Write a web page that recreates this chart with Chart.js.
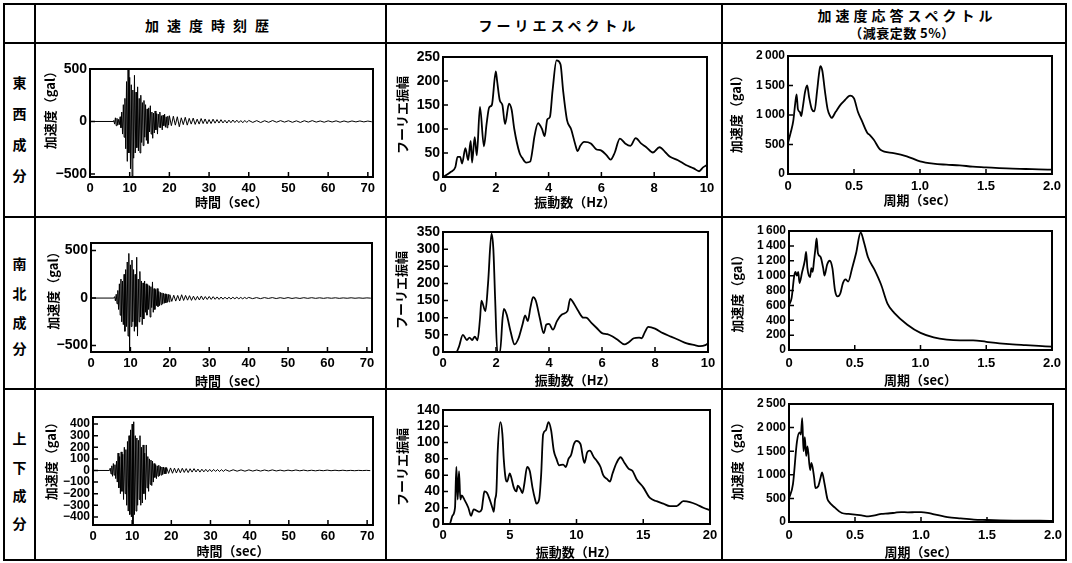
<!DOCTYPE html>
<html><head><meta charset="utf-8">
<script src="https://cdn.jsdelivr.net/npm/chart.js@4.4.0/dist/chart.umd.min.js"></script>
<style>
html,body{margin:0;padding:0;background:#fff;}
#page{position:relative;width:1072px;height:563px;overflow:hidden;background:#fff;font-family:"Liberation Sans","Noto Sans CJK JP",sans-serif;font-weight:bold;color:#000;}
.ln{position:absolute;background:#000;}
.txt{position:absolute;white-space:nowrap;text-align:center;font-family:"Noto Sans CJK JP","Liberation Sans",sans-serif;font-weight:bold;color:#000;}
canvas{position:absolute;}
</style></head>
<body><div id="page">
<div class="ln" style="left:3px;top:3px;width:1064px;height:2px"></div>
<div class="ln" style="left:3px;top:559px;width:1064px;height:2px"></div>
<div class="ln" style="left:3px;top:3px;width:2px;height:558px"></div>
<div class="ln" style="left:1065px;top:3px;width:2px;height:558px"></div>
<div class="ln" style="left:34px;top:3px;width:2px;height:558px"></div>
<div class="ln" style="left:385px;top:3px;width:2px;height:558px"></div>
<div class="ln" style="left:721px;top:3px;width:2px;height:558px"></div>
<div class="ln" style="left:3px;top:42px;width:1064px;height:2px"></div>
<div class="ln" style="left:3px;top:216px;width:1064px;height:2px"></div>
<div class="ln" style="left:3px;top:388px;width:1064px;height:2px"></div>

<div class="txt" style="left:53px;width:300px;top:16px;font-size:14px;line-height:18px;letter-spacing:8px;padding-left:8px;">加速度時刻歴</div>
<div class="txt" style="left:405px;width:300px;top:16px;font-size:14px;line-height:18px;letter-spacing:4px;padding-left:4px;">フーリエスペクトル</div>
<div class="txt" style="left:753px;width:300px;top:6px;font-size:14px;line-height:18px;letter-spacing:4px;padding-left:4px;">加速度応答スペクトル</div>
<div class="txt" style="left:752px;width:300px;top:24px;font-size:13px;line-height:17px;letter-spacing:0.5px;">（減衰定数 5%）</div>
<div id="rowlabels"></div>
</div>
<script>
// ---------- labels ----------
const rowLabels = [["東","西","成","分"],["南","北","成","分"],["上","下","成","分"]];

// ---------- acceleration time histories (gal) ----------
// EW: samples from 6.0 s
const ewStart = 6.0;
const ewAcc02 = [10,-25,35,-40,30,-35,20,-30,45,-60,
 90,-120,160,-150,220,-260,380,-380,500,-300,
 420,-450,350,-520,300,-350,440,-300,280,-250,
 330,-280,220,-300,250,-200,180,-230,200,-150,
 160,-180,120,-210,130,-100,150,-120,90,-160,
 80,-110,100,-80,75,-120,70,-55,90,-60,
 55,-80,60,-40,70,-55,45,-60,50,-35,55];
const ewAcc05 = [-40,50,-35,45,-50,35,-30,40,-35,30,
 -25,32,-28,22,-25,28,-20,24,-22,18,
 -20,22,-16,18,-15,17,-14,12,-15,13,
 -12,14,-10,12,-11,9,-12,10,-9,10];
const ewAcc10 = [-9,8,-10,7,-8,9,-7,8,-6,7,-8,6,-9,7,-6,8,-6,5,-7,6,-5,6,-7,5,-6,5,-4,5,-4,4,-3];

// NS
const nsStart = 6.0;
const nsAcc02 = [15,-30,40,-60,80,-120,150,-180,200,-250,
 180,-280,250,-350,300,-300,380,-400,470,-560,
 350,-300,400,-250,300,-350,250,-300,430,-400,
 200,-250,280,-200,180,-280,160,-220,180,-150,
 150,-180,140,-120,130,-200,120,-100,170,-150,
 100,-120,90,-80,100,-90,70,-80,60,-70,
 55,-60,50,-55,45,-50,40,-45,40,-40,35];
const nsAcc05 = [-35,30,-32,28,-30,35,-25,28,-22,25,
 -24,20,-22,18,-20,22,-18,16,-15,17,
 -14,15,-13,12,-14,11,-12,10,-11,9,
 -10,9,-8,9,-8,7,-8,7,-6,7];
const nsAcc10 = [-6,5,-6,5,-4,5,-5,4,-4,5,-4,3,-4,4,-3,4,-3,3,-3,3,-2,3,-3,2,-2,3,-2,2,-2,2,-1];

// UD
const udStart = 4.4;
const udAcc02 = [20,-30,40,-50,60,-40,50,-70,80,-100,
 150,-150,120,-200,160,-180,140,-250,200,-200,
 180,-300,250,-350,300,-380,350,-400,400,-470,
 420,-380,300,-350,280,-300,260,-250,300,-300,
 200,-280,220,-200,150,-250,220,-150,120,-180,
 100,-120,90,-130,80,-100,60,-60,50,-70,
 40,-50,45,-45,35,-40,30,-35,30,-30,25,-28,25];
const udAcc05 = [-25,22,-24,20,-22,18,-20,19,-17,16,
 -18,15,-14,16,-13,12,-14,11,-12,10,
 -11,9,-10,9,-8,8,-9,7,-8,7];
const udAcc10 = [-7,6,-6,5,-6,5,-5,4,-5,4,-4,5,-4,3,-4,3,-3,4,-3,3,-3,2,-3,2,-2,3,-2,2,-2,2,-2,1,-2,1,-1,1,-1];

// ---------- Fourier spectra ----------
const ewFreq = [0,0.28,0.47,0.55,0.65,0.72,0.85,0.95,1.05,1.1,1.2,1.28,1.4,1.55,1.65,1.75,1.85,2.0,2.05,2.15,2.25,2.35,2.5,2.6,2.7,2.9,3.0,3.15,3.3,3.4,3.45,3.6,3.75,3.85,3.95,4.05,4.15,4.3,4.45,4.55,4.7,4.85,5.0,5.1,5.2,5.35,5.6,5.8,6.0,6.2,6.35,6.5,6.7,6.9,7.1,7.3,7.5,7.7,7.95,8.2,8.45,8.6,8.9,9.2,9.5,9.7,9.85,10];
const ewFour = [0,10,21,42,42,28,60,35,75,30,83,45,146,64,110,145,150,220,200,160,150,110,153,140,100,50,40,30,32,60,80,112,100,85,120,125,180,243,235,180,118,100,70,54,65,73,70,58,55,45,36,50,80,70,65,81,70,62,51,62,50,42,35,25,18,12,20,25];
const nsFreq = [0,0.5,0.6,0.75,0.9,1.0,1.1,1.2,1.3,1.4,1.45,1.6,1.7,1.83,1.9,1.97,2.05,2.15,2.25,2.3,2.4,2.55,2.7,2.85,3.0,3.1,3.2,3.3,3.4,3.5,3.65,3.8,3.9,4.0,4.15,4.3,4.5,4.7,4.8,4.95,5.1,5.3,5.4,5.6,5.8,6.0,6.2,6.4,6.6,6.85,7.0,7.2,7.4,7.5,7.6,7.75,8.0,8.3,8.6,8.9,9.2,9.5,9.7,9.9,10];
const nsFour = [0,0,15,50,35,42,35,45,34,100,150,119,200,345,300,150,0,0,100,126,110,60,22,40,80,107,90,130,160,150,100,55,80,82,65,90,110,120,155,140,120,100,100,85,70,55,52,45,35,22,28,40,42,40,55,73,68,55,45,35,25,20,17,20,25];
const udFreq = [0,0.5,0.7,0.9,1.0,1.1,1.2,1.3,1.4,1.6,1.9,2.1,2.3,2.7,2.9,3.0,3.1,3.3,3.5,3.7,3.8,3.9,4.0,4.1,4.3,4.45,4.55,4.7,4.8,5.0,5.1,5.3,5.5,5.6,5.8,5.95,6.1,6.3,6.5,6.7,6.9,7.0,7.2,7.35,7.5,7.7,7.9,8.1,8.3,8.5,8.7,9.0,9.2,9.4,9.6,9.8,10.0,10.3,10.5,10.6,10.8,11.0,11.3,11.5,11.8,12.0,12.3,12.5,12.7,13.0,13.3,13.6,13.9,14.2,14.5,15.0,15.5,16.0,16.5,17.0,17.5,18.0,18.5,19.0,19.5,20];
const udFour = [0,0,10,20,70,30,65,30,35,30,20,10,18,15,18,30,40,38,30,20,15,30,40,90,125,110,80,55,52,62,58,45,40,47,43,38,50,70,65,45,30,25,30,60,110,115,125,115,90,80,72,73,70,80,85,98,102,98,80,75,88,90,82,78,70,60,55,52,62,75,82,75,68,65,55,45,32,28,25,22,22,28,27,24,20,17];

// ---------- acceleration response spectra (h=5%) ----------
const ewPeriod = [0,0.02,0.04,0.055,0.065,0.075,0.09,0.1,0.11,0.13,0.145,0.16,0.18,0.2,0.22,0.235,0.245,0.26,0.28,0.3,0.32,0.33,0.36,0.4,0.43,0.47,0.5,0.53,0.56,0.6,0.62,0.65,0.7,0.8,0.9,1.0,1.1,1.2,1.3,1.4,1.5,1.6,1.7,1.8,1.9,2.0];
const ewResp = [530,700,900,1200,1350,1100,1050,980,1100,1400,1500,1300,1100,1060,1400,1700,1830,1750,1400,1100,980,950,1050,1180,1250,1330,1280,1050,900,700,660,580,410,355,300,215,175,158,146,125,113,100,90,85,78,73];
const nsPeriod = [0,0.02,0.04,0.05,0.06,0.07,0.08,0.1,0.12,0.13,0.14,0.16,0.17,0.18,0.19,0.2,0.21,0.22,0.24,0.26,0.27,0.29,0.31,0.33,0.35,0.37,0.39,0.41,0.43,0.45,0.48,0.51,0.545,0.57,0.6,0.65,0.7,0.75,0.8,0.9,1.0,1.1,1.2,1.3,1.4,1.5,1.6,1.7,1.8,1.9,2.0];
const nsResp = [600,700,1000,1050,1000,1050,900,1050,1200,1320,1100,980,1100,1050,1200,1350,1500,1300,1250,1100,1000,1150,1200,1100,800,720,760,900,950,920,1100,1300,1580,1450,1250,1080,880,620,500,340,230,170,140,130,130,110,90,75,65,55,45];
const udPeriod = [0,0.03,0.06,0.08,0.09,0.1,0.11,0.12,0.13,0.14,0.16,0.17,0.19,0.2,0.22,0.24,0.25,0.27,0.29,0.3,0.35,0.4,0.45,0.5,0.55,0.6,0.65,0.7,0.75,0.8,0.85,0.9,0.95,1.0,1.05,1.1,1.2,1.3,1.4,1.5,1.6,1.7,1.8,1.9,2.0];
const udResp = [500,800,1700,1900,1850,2200,1500,1800,1400,1600,1100,1250,950,720,750,950,1050,800,500,440,300,190,170,155,140,120,140,170,180,195,211,205,208,211,195,160,105,75,50,42,35,30,28,26,25];

// ---------- tick values ----------
const timeTicks = [0,10,20,30,40,50,60,70];
const accTicksEW = [-500,0,500];
const accTicksNS = [-500,0,500];
const accTicksUD = [-400,-300,-200,-100,0,100,200,300,400];
const freqTicks10 = [0,2,4,6,8,10];
const freqTicks20 = [0,5,10,15,20];
const fourTicksEW = [0,50,100,150,200,250];
const fourTicksNS = [0,50,100,150,200,250,300,350];
const fourTicksUD = [0,20,40,60,80,100,120,140];
const periodTicks = [0,0.5,1.0,1.5,2.0];
const respTicksEW = [0,500,1000,1500,2000];
const respTicksNS = [0,200,400,600,800,1000,1200,1400,1600];
const respTicksUD = [0,500,1000,1500,2000,2500];

// ---------- helpers ----------
function buildTrace(start, segs){
  const pts = [{x:0,y:0},{x:start-0.2,y:0}];
  let t = start;
  segs.forEach(([dt, vals], si) => {
    if (si > 0) t += dt;
    vals.forEach((v, i) => { if (i > 0) t += dt; pts.push({x:+t.toFixed(3), y:v}); });
  });
  return pts;
}
function pair(xs, ys){ const n=Math.min(xs.length, ys.length); const p=[]; for(let i=0;i<n;i++) p.push({x:xs[i],y:ys[i]}); return p; }
function fmtNum(v){
  const a = Math.abs(v);
  const s = a >= 1000 ? String(a).replace(/\B(?=(\d{3})+(?!\d))/g,'\u2009') : String(a);
  return v < 0 ? '\u2212' + s : s;
}
function fmtPeriod(v){ return v === 0 ? '0' : v.toFixed(1); }

const FONT = '"Liberation Sans","Noto Sans CJK JP",sans-serif';
const CJK = '"Noto Sans CJK JP","Liberation Sans",sans-serif';

const framePlugin = {
  id:'frame',
  afterDraw(chart, args, opts){
    const {ctx, chartArea:a, scales:{x, y}} = chart;
    ctx.save();
    ctx.strokeStyle = '#000';
    ctx.lineWidth = 1.5;
    ctx.beginPath();
    x.ticks.forEach(t => { const px = x.getPixelForValue(t.value); ctx.moveTo(px, a.bottom); ctx.lineTo(px, a.bottom-5); });
    y.ticks.forEach(t => { const py = y.getPixelForValue(t.value); ctx.moveTo(a.left, py); ctx.lineTo(a.left+5, py); });
    ctx.stroke();
    ctx.lineWidth = 2;
    ctx.strokeRect(a.left, a.top, a.right-a.left, a.bottom-a.top);
    // vertical axis title
    ctx.fillStyle = '#000';
    ctx.font = 'bold 13px ' + CJK;
    ctx.textAlign = 'center';
    ctx.textBaseline = 'middle';
    ctx.translate(opts.tx, (a.top + a.bottom)/2 + opts.dy);
    ctx.rotate(-Math.PI/2);
    ctx.fillText(opts.text, 0, 0);
    ctx.restore();
  }
};

function makeChart(c){
  const padTop = 12, padRight = 16;
  const [pl, pt, pr, pb] = c.rect;
  const L = pl - c.yW, T = pt - padTop;
  const W = (pr - pl) + c.yW + padRight, H = (pb - pt) + padTop + c.xH;
  const cv = document.createElement('canvas');
  cv.width = W; cv.height = H;
  cv.style.left = L + 'px'; cv.style.top = T + 'px';
  cv.style.width = W + 'px'; cv.style.height = H + 'px';
  document.getElementById('page').appendChild(cv);
  new Chart(cv, {
    type:'line',
    data:{datasets:[{data:c.data, borderColor:'#000', borderWidth:c.bw, pointRadius:0, fill:false,
      cubicInterpolationMode: c.smooth ? 'monotone' : 'default', tension:0}]},
    options:{
      responsive:false, animation:false, devicePixelRatio:1,
      layout:{padding:{top:padTop, right:padRight, left:0, bottom:0}},
      plugins:{legend:{display:false}, tooltip:{enabled:false},
        frame:{text:c.yTitle, tx:c.yTitleX - L, dy:c.yTitleDy}},
      scales:{
        x:{type:'linear', min:c.xMin, max:c.xMax,
          afterBuildTicks(s){ s.ticks = c.xTicks.map(v => ({value:v})); },
          afterFit(s){ s.height = c.xH; },
          grid:{display:false, drawTicks:false}, border:{display:false},
          ticks:{color:'#000', font:{family:FONT, size:13, weight:'bold'}, maxRotation:0, autoSkip:false, padding:c.xPad,
            callback:c.xFmt},
          title:{display:true, text:c.xTitle, color:'#000', padding:0, font:{family:CJK, size:13, weight:'bold'}}},
        y:{type:'linear', min:c.yMin, max:c.yMax,
          afterBuildTicks(s){ s.ticks = c.yTicks.map(v => ({value:v})); },
          afterFit(s){ s.width = c.yW; },
          grid:{display:false, drawTicks:false}, border:{display:false},
          ticks:{color:'#000', font:{family:FONT, size:c.yFont, weight:'bold'}, autoSkip:false, padding:3,
            callback:v => fmtNum(v)},
          title:{display:false}}
      }
    },
    plugins:[framePlugin]
  });
}

// row labels
(function(){
  const cent = [[82,113,144,175],[263,293,322,348],[438,467,495,523]];
  const host = document.getElementById('rowlabels');
  rowLabels.forEach((r, ri) => r.forEach((ch, ci) => {
    const d = document.createElement('div');
    d.className = 'txt';
    d.style.cssText = `left:5px;width:29px;top:${cent[ri][ci]-9}px;font-size:14px;line-height:18px;`;
    d.textContent = ch;
    host.appendChild(d);
  }));
})();

const accTitle = '加速度（gal）', timeTitle = '時間（sec）';
const fourTitle = 'フーリエ振幅', freqTitle = '振動数（Hz）';
const periodTitle = '周期（sec）';
const ident = v => String(v);

const charts = [
  {rect:[90,69,373,177], yW:48, xH:33, xPad:4, data:buildTrace(ewStart,[[0.2,ewAcc02],[0.5,ewAcc05],[1.0,ewAcc10]]), bw:1, smooth:false,
   xMin:0, xMax:71.3, xTicks:timeTicks, xFmt:ident, xTitle:timeTitle, yMin:-529, yMax:500, yTicks:accTicksEW, yFont:14, yTitle:accTitle, yTitleX:50, yTitleDy:-16},
  {rect:[443,57,707,177], yW:49, xH:33, xPad:4, data:pair(ewFreq,ewFour), bw:1.8, smooth:true,
   xMin:0, xMax:10, xTicks:freqTicks10, xFmt:ident, xTitle:freqTitle, yMin:0, yMax:250, yTicks:fourTicksEW, yFont:14, yTitle:fourTitle, yTitleX:402, yTitleDy:-2},
  {rect:[788,56,1052,174], yW:60, xH:34, xPad:5, data:pair(ewPeriod,ewResp), bw:1.8, smooth:true,
   xMin:0, xMax:2, xTicks:periodTicks, xFmt:fmtPeriod, xTitle:periodTitle, yMin:0, yMax:2000, yTicks:respTicksEW, yFont:12, yTitle:accTitle, yTitleX:736, yTitleDy:-4},
  {rect:[91,243,372,352], yW:46, xH:37, xPad:4, data:buildTrace(nsStart,[[0.2,nsAcc02],[0.5,nsAcc05],[1.0,nsAcc10]]), bw:1, smooth:false,
   xMin:0, xMax:71.3, xTicks:timeTicks, xFmt:ident, xTitle:timeTitle, yMin:-568, yMax:580, yTicks:accTicksNS, yFont:14, yTitle:accTitle, yTitleX:53, yTitleDy:-10},
  {rect:[443,232,708,352], yW:50, xH:36, xPad:4, data:pair(nsFreq,nsFour), bw:1.8, smooth:true,
   xMin:0, xMax:10, xTicks:freqTicks10, xFmt:ident, xTitle:freqTitle, yMin:0, yMax:350, yTicks:fourTicksNS, yFont:14, yTitle:fourTitle, yTitleX:401, yTitleDy:-2},
  {rect:[789,231,1052,350], yW:60, xH:38, xPad:6, data:pair(nsPeriod,nsResp), bw:1.8, smooth:true,
   xMin:0, xMax:2, xTicks:periodTicks, xFmt:fmtPeriod, xTitle:periodTitle, yMin:0, yMax:1600, yTicks:respTicksNS, yFont:12, yTitle:accTitle, yTitleX:737, yTitleDy:0},
  {rect:[93,417,373,525], yW:50, xH:34, xPad:4, data:buildTrace(udStart,[[0.2,udAcc02],[0.5,udAcc05],[1.0,udAcc10]]), bw:1, smooth:false,
   xMin:0, xMax:71.5, xTicks:timeTicks, xFmt:ident, xTitle:timeTitle, yMin:-470, yMax:461, yTicks:accTicksUD, yFont:12, yTitle:accTitle, yTitleX:51, yTitleDy:-13},
  {rect:[443,410,710,524], yW:49, xH:36, xPad:4, data:pair(udFreq,udFour), bw:1.8, smooth:true,
   xMin:0, xMax:20, xTicks:freqTicks20, xFmt:ident, xTitle:freqTitle, yMin:0, yMax:140, yTicks:fourTicksUD, yFont:14, yTitle:fourTitle, yTitleX:402, yTitleDy:0},
  {rect:[789,404,1053,522], yW:60, xH:38, xPad:6, data:pair(udPeriod,udResp), bw:1.8, smooth:true,
   xMin:0, xMax:2, xTicks:periodTicks, xFmt:fmtPeriod, xTitle:periodTitle, yMin:0, yMax:2500, yTicks:respTicksUD, yFont:12, yTitle:accTitle, yTitleX:737, yTitleDy:-5}
];
charts.forEach(makeChart);
</script>
</body></html>
